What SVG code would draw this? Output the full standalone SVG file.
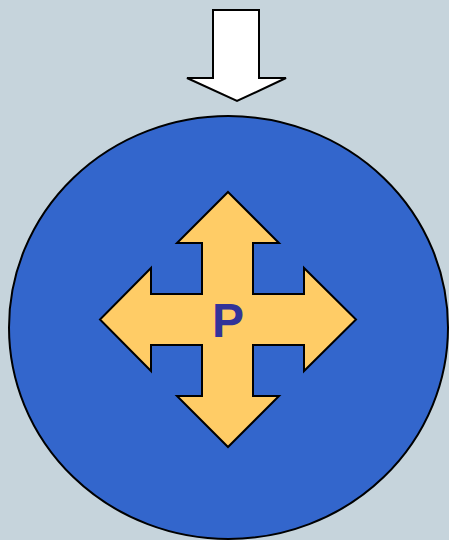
<svg xmlns="http://www.w3.org/2000/svg" width="449" height="540" viewBox="0 0 449 540">
<style>
.outline{stroke:#000;stroke-width:2;stroke-linejoin:miter}
</style>
<rect width="449" height="540" fill="#C6D4DC"/>
<g id="down-arrow">
<polygon class="outline" fill="#FFFFFF" points="213,10 259,10 259,78 286,78 237,101 187,78 213,78"/>
</g>
<g id="circle">
<ellipse class="outline" fill="#3366CC" cx="228.5" cy="327.5" rx="219.5" ry="211.5"/>
</g>
<g id="cross-arrow">
<polygon class="outline" fill="#FFCC66" points="228,192 279,243 253,243 253,294 304,294 304,268 356,319.5 304,371 304,345 253,345 253,396 279,396 228,447 177,396 202,396 202,345 151,345 151,371 100,319.5 151,268 151,294 202,294 202,243 177,243"/>
<text x="228" y="337" text-anchor="middle" font-family="Liberation Sans, Arial, sans-serif" font-weight="bold" font-size="48" fill="#333399">P</text>
</g>
</svg>
